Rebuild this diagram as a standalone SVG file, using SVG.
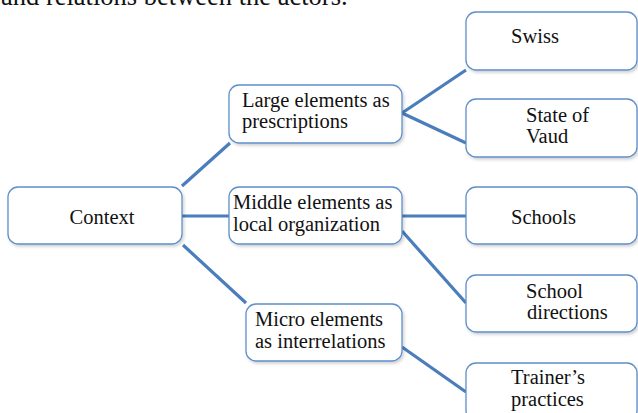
<svg xmlns="http://www.w3.org/2000/svg" width="638" height="413" viewBox="0 0 638 413">
<style>
.box{fill:#ffffff;stroke:#5f8fcb;stroke-width:1.3;filter:url(#sh)}
.t{font-family:'Liberation Serif','Times New Roman',serif;font-size:20.5px;fill:#111111}
.ln{stroke:#4a7dbb;stroke-width:3.2;fill:none;stroke-linecap:butt}
</style>
<defs>
<filter id="sh" x="-10%" y="-10%" width="125%" height="135%">
<feDropShadow dx="1.5" dy="2" stdDeviation="1.5" flood-color="#000000" flood-opacity="0.18"/>
</filter>
</defs>
<rect width="638" height="413" fill="#ffffff"/>
<text x="1" y="5" font-family="'Liberation Serif','Times New Roman',serif" font-size="26.5" fill="#111111">and relations between the actors.</text>
<g id="connectors">
<line class="ln" x1="182" y1="186" x2="230" y2="143"/>
<line class="ln" x1="182" y1="216" x2="229" y2="216"/>
<line class="ln" x1="183" y1="245" x2="246" y2="303"/>
<line class="ln" x1="402" y1="113" x2="466" y2="70"/>
<line class="ln" x1="402" y1="113" x2="466" y2="143"/>
<line class="ln" x1="402" y1="216" x2="466" y2="216"/>
<line class="ln" x1="402" y1="231" x2="466" y2="303"/>
<line class="ln" x1="402" y1="347" x2="466" y2="392"/>
</g>
<g font-family="'Liberation Serif','Times New Roman',serif" font-size="20.5" fill="#111111">
<g id="context">
<rect class="box" x="8" y="187" width="174" height="57" rx="10"/>
<text class="t" x="102" y="224" text-anchor="middle">Context</text>
</g>
<g id="large">
<rect class="box" x="229" y="85" width="173" height="58" rx="10"/>
<text class="t" x="242" y="107">Large elements as</text>
<text class="t" x="242" y="128">prescriptions</text>
</g>
<g id="middle">
<rect class="box" x="229" y="187" width="173" height="57" rx="10"/>
<text class="t" x="233" y="209">Middle elements as</text>
<text class="t" x="233" y="231">local organization</text>
</g>
<g id="micro">
<rect class="box" x="246" y="304" width="156" height="57" rx="10"/>
<text class="t" x="255" y="326">Micro elements</text>
<text class="t" x="255" y="348">as interrelations</text>
</g>
<g id="swiss">
<rect class="box" x="466" y="12" width="171" height="58" rx="10"/>
<text class="t" x="511" y="43">Swiss</text>
</g>
<g id="vaud">
<rect class="box" x="466" y="99" width="171" height="58" rx="10"/>
<text class="t" x="526" y="122">State  of</text>
<text class="t" x="526" y="143">Vaud</text>
</g>
<g id="schools">
<rect class="box" x="466" y="187" width="171" height="57" rx="10"/>
<text class="t" x="511" y="224">Schools</text>
</g>
<g id="directions">
<rect class="box" x="466" y="275" width="171" height="57" rx="10"/>
<text class="t" x="526" y="298">School</text>
<text class="t" x="527" y="319">directions</text>
</g>
<g id="trainer">
<rect class="box" x="466" y="363" width="171" height="58" rx="10"/>
<text class="t" x="511" y="384">Trainer’s</text>
<text class="t" x="511" y="406">practices</text>
</g>
</g>
</svg>
